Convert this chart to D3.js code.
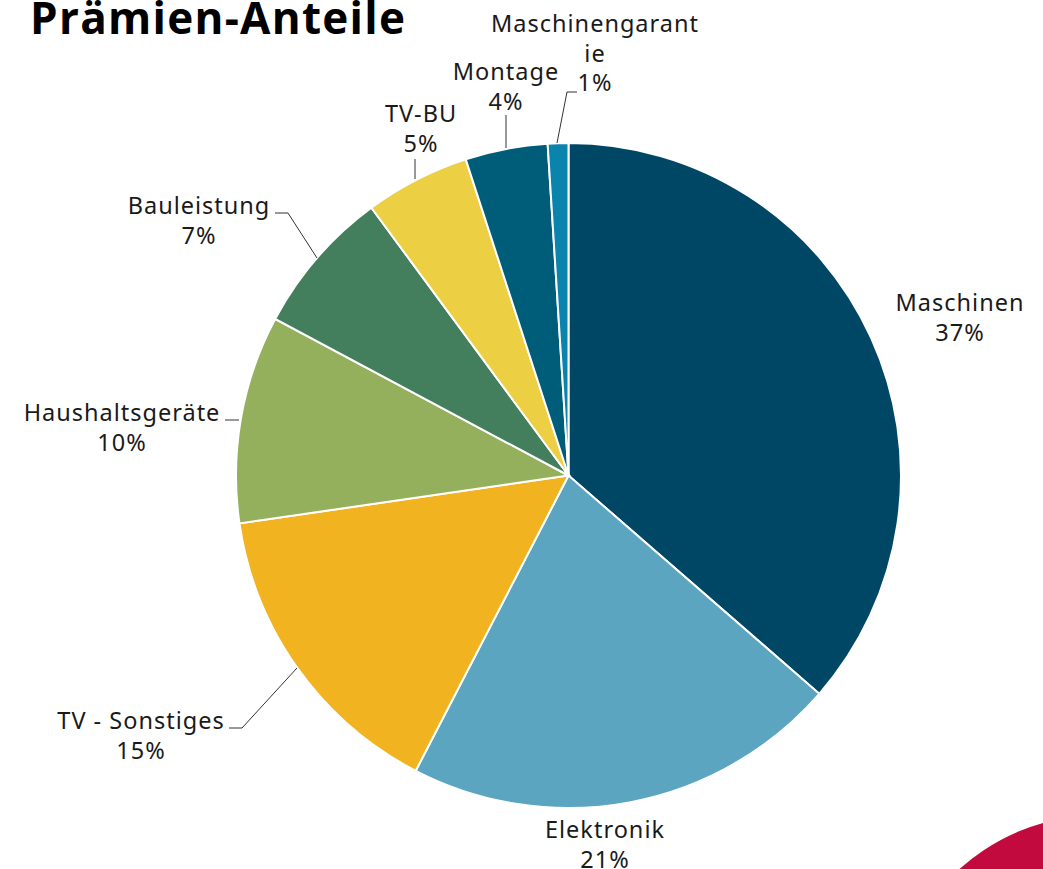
<!DOCTYPE html>
<meta charset="utf-8">
<style>
body { margin: 0; background: #fff; }
.title { font: bold 44px 'Open Sans', sans-serif; fill: #000; }
.lbl { font: 23.5px 'Noto Sans', sans-serif; letter-spacing: 1px; fill: #1a1a1a; }
.leader { fill: none; stroke: #333; stroke-width: 1; }
</style>
<svg width="1043" height="869"></svg>
<script src="https://d3js.org/d3.v7.min.js"></script>
<script>

var categories = ["Maschinen", "Elektronik", "TV - Sonstiges", "Haushaltsgeräte", "Bauleistung", "TV-BU", "Montage", "Maschinengarantie"];
var values = [36.4, 21.2, 15.1, 10.1, 7.1, 5.1, 4.0, 1.0];
var pctLabels = ["37%", "21%", "15%", "10%", "7%", "5%", "4%", "1%"];
var colors = ["#004766", "#5ba5c0", "#f1b320", "#95b05d", "#437f5c", "#edcf44", "#005d7a", "#0a84ad"];

// label layout: text lines, anchor x, first baseline, leader polyline (null = none)
var labelLayout = [
  {lines: ["Maschinen"], x: 960, y: 311, leader: null},
  {lines: ["Elektronik"], x: 605, y: 838, leader: null},
  {lines: ["TV - Sonstiges"], x: 141, y: 729, leader: [[229, 728], [242, 728], [297, 668]]},
  {lines: ["Haushaltsgeräte"], x: 122, y: 421, leader: [[225, 420], [239, 420]]},
  {lines: ["Bauleistung"], x: 199, y: 214, leader: [[275, 213], [288, 213], [317, 258]]},
  {lines: ["TV-BU"], x: 421, y: 122, leader: [[415, 159], [415, 179]]},
  {lines: ["Montage"], x: 506, y: 80, leader: [[506, 115], [506, 148]]},
  {lines: ["Maschinengarant", "ie"], x: 595, y: 32, leader: [[577, 92], [567, 92], [557, 143]]}
];

var svg = d3.select("svg");
var cx = 568.5, cy = 475.5, radius = 332.5;

// red decoration in the corner
svg.append("circle")
    .attr("cx", 1100).attr("cy", 1025).attr("r", 210)
    .attr("fill", "#c30a3e");

svg.append("text")
    .attr("class", "title")
    .attr("x", 30).attr("y", 34)
    .attr("textLength", 375)
    .attr("lengthAdjust", "spacing")
    .text("Prämien-Anteile");

var pie = d3.pie().sort(null).value(function(d) { return d; });
var arc = d3.arc().innerRadius(0).outerRadius(radius);

var g = svg.append("g").attr("transform", "translate(" + cx + "," + cy + ")");

g.selectAll("path")
  .data(pie(values))
  .enter().append("path")
    .attr("d", arc)
    .attr("fill", function(d, i) { return colors[i]; })
    .attr("stroke", "#fff")
    .attr("stroke-width", 2);

var line = d3.line();

labelLayout.forEach(function(l, i) {
  if (l.leader) {
    svg.append("path").attr("class", "leader").attr("d", line(l.leader));
  }
  var t = svg.append("text")
      .attr("class", "lbl")
      .attr("text-anchor", "middle");
  var lines = l.lines.concat([pctLabels[i]]);
  lines.forEach(function(s, k) {
    t.append("tspan").attr("x", l.x).attr("y", l.y + k * 29.5).text(s);
  });
});

</script>
